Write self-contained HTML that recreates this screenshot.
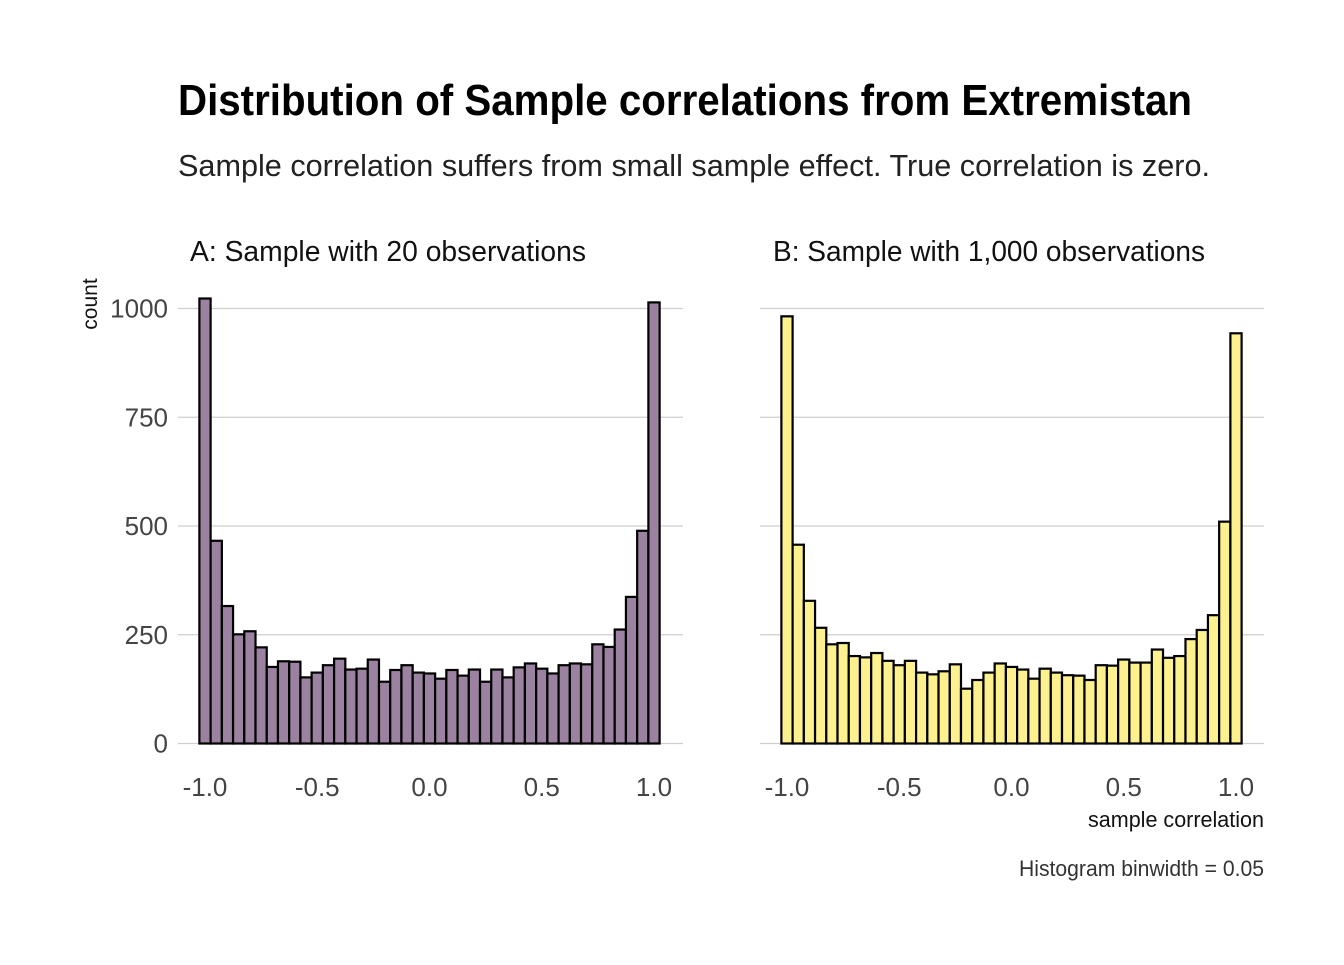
<!DOCTYPE html>
<html><head><meta charset="utf-8"><style>
body{margin:0;background:#fff}
svg text{font-family:"Liberation Sans Narrow","Liberation Sans",sans-serif}
</style></head><body>
<svg id="chart" width="1344" height="960" viewBox="0 0 1344 960">
<text x="178" y="115" font-size="44" font-weight="bold" textLength="1014" lengthAdjust="spacingAndGlyphs" fill="#000">Distribution of Sample correlations from Extremistan</text>
<text x="178" y="176" font-size="31" textLength="1032" lengthAdjust="spacingAndGlyphs" fill="#222">Sample correlation suffers from small sample effect. True correlation is zero.</text>
<text x="190" y="261" font-size="29" textLength="396" lengthAdjust="spacingAndGlyphs" fill="#111">A: Sample with 20 observations</text>
<text x="773" y="261" font-size="29" textLength="432" lengthAdjust="spacingAndGlyphs" fill="#111">B: Sample with 1,000 observations</text>
<text transform="translate(97,304) rotate(-90)" font-size="21" text-anchor="middle" fill="#111">count</text>
<text x="1088" y="827" font-size="22" textLength="176" lengthAdjust="spacingAndGlyphs" fill="#111">sample correlation</text>
<text x="1019" y="876" font-size="22" textLength="245" lengthAdjust="spacingAndGlyphs" fill="#333">Histogram binwidth = 0.05</text>
<g id="pa"></g>
<g id="pb"></g>
</svg>
<script>
const binCenters = Array.from({length:41},(_,i)=>-1+i*0.05);
const countsA = [1023,466,316,251,258,221,176,189,188,152,163,180,195,170,172,193,142,169,180,163,161,149,169,156,170,142,170,152,175,184,172,161,180,184,182,228,222,262,337,489,1014];
const countsB = [982,457,328,266,228,231,201,198,208,190,180,190,163,159,166,182,126,146,163,184,176,170,149,172,163,157,156,146,180,179,193,186,186,216,197,201,240,261,295,510,943];
const yTicks = [0,250,500,750,1000];
const xTicks = [-1.0,-0.5,0.0,0.5,1.0];
const xTickLabels = ["-1.0","-0.5","0.0","0.5","1.0"];
const NS="http://www.w3.org/2000/svg";
function y(v){return 743.5-v*0.435;}
function mk(tag,attrs,parent){const e=document.createElementNS(NS,tag);for(const k in attrs)e.setAttribute(k,attrs[k]);parent.appendChild(e);return e;}
function panel(g,x0,gl,gr,counts,fill,showY,nm){
  const x=v=>x0+(v+1)*224.5;
  yTicks.forEach(t=>{
    const l=mk('line',{x1:gl,x2:gr,y1:y(t),y2:y(t),stroke:'#cfcfcf','stroke-width':1.2},g);
    
    
    if(showY){const tx=mk('text',{x:168,y:y(t)+9,'font-size':26,'text-anchor':'end',fill:'#444'},g);tx.textContent=t;
      
      }
  });
  xTicks.forEach((t,i)=>{const tx=mk('text',{x:x(t),y:796,'font-size':26,'text-anchor':'middle',fill:'#444'},g);tx.textContent=xTickLabels[i];
    
    });
  counts.forEach((c,i)=>{const c0=binCenters[i];const r=mk('rect',{x:x(c0-0.025),y:y(c),width:x(c0+0.025)-x(c0-0.025),height:y(0)-y(c),fill:fill,stroke:'#000','stroke-width':2.2},g);
    
    });
}
panel(document.getElementById('pa'),205,178,683,countsA,'#9b82a0',true,'panel-a');
panel(document.getElementById('pb'),787,760,1264,countsB,'#fdf08e',false,'panel-b');
</script>
</body></html>
